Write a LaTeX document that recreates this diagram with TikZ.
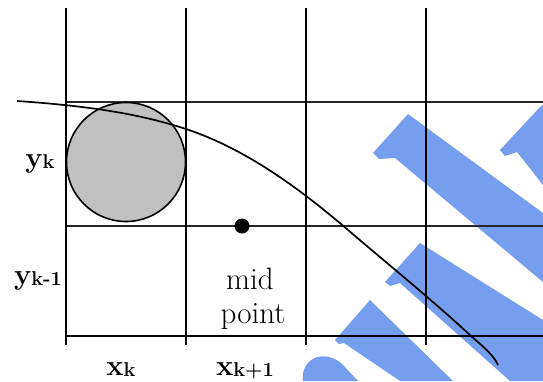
\documentclass[tikz,border=0pt]{standalone}
\definecolor{wm}{RGB}{118,158,238}
\definecolor{cellgray}{RGB}{192,192,192}
\tikzset{
  vline/.style={line width=2.3pt, black},
  hline/.style={line width=1.8pt, black!85},
  bline/.style={line width=2.3pt, black},
  wmark/.style={fill=wm, draw=none},
  curveline/.style={line width=1.7pt, black},
  lbl/.style={font=\fontsize{29}{32}\selectfont\bfseries, inner sep=0pt, anchor=base},
  txt/.style={font=\fontsize{31}{34}\selectfont, inner sep=0pt, anchor=base}
}
\newcommand{\mysub}[1]{\raisebox{-1pt}{\fontsize{20}{22}\selectfont #1}}
\begin{document}
\begin{tikzpicture}[x=1pt, y=-1pt]
\useasboundingbox (0,0) rectangle (543,381);
% watermark
\fill[wmark] (373,153) -- (408,114) -- (543,213) -- (543,282) -- (395,158) -- (379,159) -- cycle;
\fill[wmark] (500,150) -- (540,107) -- (543,105) -- (543,185) -- (517,152) -- (505,156) -- cycle;
\fill[wmark] (385,282) -- (420,243) -- (543,320) -- (543,381) -- (510,381) -- (400,283) -- (390,286) -- cycle;
\fill[wmark] (335,340) -- (370,300) -- (453,381) -- (400,381) -- (344,343) -- (339,344) -- cycle;
\fill[wmark] (303,381) .. controls (300,362) and (320,347) .. (341,363) -- (358,381) -- cycle;
% grid
\coordinate (v1t) at (66,8);   \coordinate (v1b) at (66,345);
\coordinate (v2t) at (186,8);  \coordinate (v2b) at (186,345);
\coordinate (v3t) at (306,8);  \coordinate (v3b) at (306,345);
\coordinate (v4t) at (426,8);  \coordinate (v4b) at (426,345);
\coordinate (h1l) at (66,102); \coordinate (h1r) at (543,102);
\coordinate (h2l) at (66,226); \coordinate (h2r) at (543,226);
\coordinate (h3l) at (66,336); \coordinate (h3r) at (543,336);
\draw[hline] (h1l) -- (h1r);
\draw[hline] (h2l) -- (h2r);
\draw[bline] (h3l) -- (h3r);
\draw[vline] (v1t) -- (v1b);
\draw[vline] (v2t) -- (v2b);
\draw[vline] (v3t) -- (v3b);
\draw[vline] (v4t) -- (v4b);
% pixel circle
\node[circle, draw=black, line width=1.6pt, fill=cellgray, minimum size=119pt, inner sep=0pt] (pix) at (126,162) {};
% curve
\coordinate (c0) at (17,101);
\coordinate (c1) at (186,129);
\coordinate (c2) at (341,224);
\coordinate (c3) at (471,336);
\coordinate (c4) at (498,365);
\draw[curveline] (c0) .. controls (90,106) and (140,114) .. (c1)
  .. controls (240,147) and (290,181) .. (c2)
  .. controls (390,266) and (430,298) .. (c3)
  .. controls (485,348) and (494,356) .. (c4);
% midpoint
\node[circle, fill=black, minimum size=15pt, inner sep=0pt] (midpt) at (242,226) {};
% labels
\node[lbl] (yk) at (40,167) {y\mysub{k}};
\node[lbl] (ykm) at (38,284) {y\mysub{k-1}};
\node[lbl] (xk) at (121,375) {x\mysub{k}};
\node[lbl] (xkp) at (245,375) {x\mysub{k+1}};
\node[txt] (midtxt) at (250,289) {mid};
\node[txt] (pointtxt) at (253,323) {point};
\end{tikzpicture}
\end{document}
